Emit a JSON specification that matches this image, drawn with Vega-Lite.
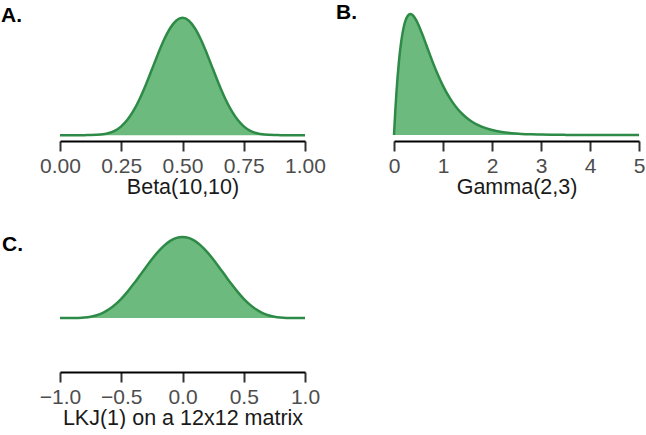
{
  "$schema": "https://vega.github.io/schema/vega-lite/v6.json",
  "padding": {"left": 1, "top": 2, "right": 0, "bottom": 0},
  "background": "white",
  "config": {
    "font": "Liberation Sans",
    "view": {"stroke": null},
    "axis": {
      "grid": false,
      "domainColor": "black",
      "domainWidth": 2,
      "tickColor": "#333333",
      "tickWidth": 2,
      "tickSize": 10,
      "labelFontSize": 21,
      "labelColor": "#4d4d4d",
      "labelPadding": 4,
      "labelFlush": false,
      "labelOverlap": false,
      "titleFontSize": 21.5,
      "titleFontWeight": "normal",
      "titleColor": "#1a1a1a",
      "titlePadding": 0
    },
    "title": {
      "anchor": "start",
      "frame": "group",
      "fontSize": 21,
      "fontWeight": "bold",
      "color": "black",
      "baseline": "bottom"
    }
  },
  "datasets": {
    "beta": [
      {"x": 0.0, "density": 0}, {"x": 0.025, "density": 0}, {"x": 0.05, "density": 0.000001},
      {"x": 0.075, "density": 0.0000344}, {"x": 0.1, "density": 0.00036}, {"x": 0.125, "density": 0.00207},
      {"x": 0.15, "density": 0.00823}, {"x": 0.175, "density": 0.02517}, {"x": 0.2, "density": 0.0635},
      {"x": 0.225, "density": 0.1377}, {"x": 0.25, "density": 0.2646}, {"x": 0.275, "density": 0.4598},
      {"x": 0.3, "density": 0.7338}, {"x": 0.325, "density": 1.087}, {"x": 0.35, "density": 1.508},
      {"x": 0.375, "density": 1.9715}, {"x": 0.4, "density": 2.4405}, {"x": 0.425, "density": 2.8714},
      {"x": 0.45, "density": 3.2193}, {"x": 0.475, "density": 3.4455}, {"x": 0.5, "density": 3.524},
      {"x": 0.525, "density": 3.4455}, {"x": 0.55, "density": 3.2193}, {"x": 0.575, "density": 2.8714},
      {"x": 0.6, "density": 2.4405}, {"x": 0.625, "density": 1.9715}, {"x": 0.65, "density": 1.508},
      {"x": 0.675, "density": 1.087}, {"x": 0.7, "density": 0.7338}, {"x": 0.725, "density": 0.4598},
      {"x": 0.75, "density": 0.2646}, {"x": 0.775, "density": 0.1377}, {"x": 0.8, "density": 0.0635},
      {"x": 0.825, "density": 0.02517}, {"x": 0.85, "density": 0.00823}, {"x": 0.875, "density": 0.00207},
      {"x": 0.9, "density": 0.00036}, {"x": 0.925, "density": 0.0000344}, {"x": 0.95, "density": 0.000001},
      {"x": 0.975, "density": 0}, {"x": 1.0, "density": 0}
    ],
    "gamma": [
      {"x": 0, "density": 0}, {"x": 0.025, "density": 0.2087}, {"x": 0.05, "density": 0.3873},
      {"x": 0.1, "density": 0.6667}, {"x": 0.15, "density": 0.8608}, {"x": 0.2, "density": 0.9879},
      {"x": 0.25, "density": 1.0628}, {"x": 0.3, "density": 1.0977}, {"x": 0.3333, "density": 1.1036},
      {"x": 0.35, "density": 1.1023}, {"x": 0.4, "density": 1.0843}, {"x": 0.45, "density": 1.0499},
      {"x": 0.5, "density": 1.0041}, {"x": 0.6, "density": 0.8926}, {"x": 0.7, "density": 0.7715},
      {"x": 0.8, "density": 0.6532}, {"x": 0.9, "density": 0.5444}, {"x": 1.0, "density": 0.4481},
      {"x": 1.1, "density": 0.3651}, {"x": 1.2, "density": 0.2951}, {"x": 1.3, "density": 0.2368},
      {"x": 1.4, "density": 0.1889}, {"x": 1.5, "density": 0.15}, {"x": 1.6, "density": 0.1185},
      {"x": 1.8, "density": 0.0732}, {"x": 2.0, "density": 0.0446}, {"x": 2.2, "density": 0.0269},
      {"x": 2.4, "density": 0.0161}, {"x": 2.6, "density": 0.00959}, {"x": 2.8, "density": 0.00567},
      {"x": 3.0, "density": 0.00333}, {"x": 3.5, "density": 0.000867}, {"x": 4.0, "density": 0.000221},
      {"x": 4.5, "density": 0.0000556}, {"x": 5.0, "density": 0.0000138}
    ],
    "lkj": [
      {"x": -1.0, "density": 0}, {"x": -0.95, "density": 0.0000119}, {"x": -0.9, "density": 0.000335},
      {"x": -0.85, "density": 0.00223}, {"x": -0.8, "density": 0.00818}, {"x": -0.75, "density": 0.0217},
      {"x": -0.7, "density": 0.0467}, {"x": -0.65, "density": 0.0869}, {"x": -0.6, "density": 0.1453},
      {"x": -0.55, "density": 0.2234}, {"x": -0.5, "density": 0.3212}, {"x": -0.45, "density": 0.4366},
      {"x": -0.4, "density": 0.5661}, {"x": -0.35, "density": 0.7042}, {"x": -0.3, "density": 0.8446},
      {"x": -0.25, "density": 0.9802}, {"x": -0.2, "density": 1.1036}, {"x": -0.15, "density": 1.2079},
      {"x": -0.1, "density": 1.2872}, {"x": -0.05, "density": 1.3367}, {"x": 0.0, "density": 1.3535},
      {"x": 0.05, "density": 1.3367}, {"x": 0.1, "density": 1.2872}, {"x": 0.15, "density": 1.2079},
      {"x": 0.2, "density": 1.1036}, {"x": 0.25, "density": 0.9802}, {"x": 0.3, "density": 0.8446},
      {"x": 0.35, "density": 0.7042}, {"x": 0.4, "density": 0.5661}, {"x": 0.45, "density": 0.4366},
      {"x": 0.5, "density": 0.3212}, {"x": 0.55, "density": 0.2234}, {"x": 0.6, "density": 0.1453},
      {"x": 0.65, "density": 0.0869}, {"x": 0.7, "density": 0.0467}, {"x": 0.75, "density": 0.0217},
      {"x": 0.8, "density": 0.00818}, {"x": 0.85, "density": 0.00223}, {"x": 0.9, "density": 0.000335},
      {"x": 0.95, "density": 0.0000119}, {"x": 1.0, "density": 0}
    ]
  },
  "columns": 2,
  "bounds": "flush",
  "spacing": {"row": 90, "column": 89},
  "concat": [
    {
      "title": {"text": "A.", "dx": -59, "offset": -14},
      "width": 245,
      "height": 129,
      "data": {"name": "beta"},
      "mark": {"type": "area", "interpolate": "monotone", "color": "#6cba7e", "opacity": 1, "fillOpacity": 1,
               "line": {"color": "#2e8b47", "strokeWidth": 2.5}},
      "encoding": {
        "x": {"field": "x", "type": "quantitative", "title": "Beta(10,10)",
              "scale": {"domain": [0, 1], "nice": false, "zero": false},
              "axis": {"values": [0, 0.25, 0.5, 0.75, 1], "format": ".2f"}},
        "y": {"field": "density", "type": "quantitative", "stack": null,
              "scale": {"domain": [-0.176, 3.7], "nice": false}, "axis": null},
        "y2": {"datum": 0}
      }
    },
    {
      "title": {"text": "B.", "dx": -58, "offset": -14},
      "width": 245,
      "height": 129,
      "data": {"name": "gamma"},
      "mark": {"type": "area", "interpolate": "monotone", "color": "#6cba7e", "opacity": 1, "fillOpacity": 1,
               "line": {"color": "#2e8b47", "strokeWidth": 2.5}},
      "encoding": {
        "x": {"field": "x", "type": "quantitative", "title": "Gamma(2,3)",
              "scale": {"domain": [0, 5], "nice": false, "zero": false},
              "axis": {"values": [0, 1, 2, 3, 4, 5], "format": "d"}},
        "y": {"field": "density", "type": "quantitative", "stack": null,
              "scale": {"domain": [-0.055, 1.122], "nice": false}, "axis": null},
        "y2": {"datum": 0}
      }
    },
    {
      "title": {"text": "C.", "dx": -58, "offset": -24},
      "width": 245,
      "height": 141,
      "data": {"name": "lkj"},
      "mark": {"type": "area", "interpolate": "monotone", "color": "#6cba7e", "opacity": 1, "fillOpacity": 1,
               "line": {"color": "#2e8b47", "strokeWidth": 2.5}},
      "encoding": {
        "x": {"field": "x", "type": "quantitative", "title": "LKJ(1) on a 12x12 matrix",
              "scale": {"domain": [-1, 1], "nice": false, "zero": false},
              "axis": {"values": [-1, -0.5, 0, 0.5, 1], "format": ".1f"}},
        "y": {"field": "density", "type": "quantitative", "stack": null,
              "scale": {"domain": [-0.9, 1.452], "nice": false}, "axis": null},
        "y2": {"datum": 0}
      }
    }
  ]
}
